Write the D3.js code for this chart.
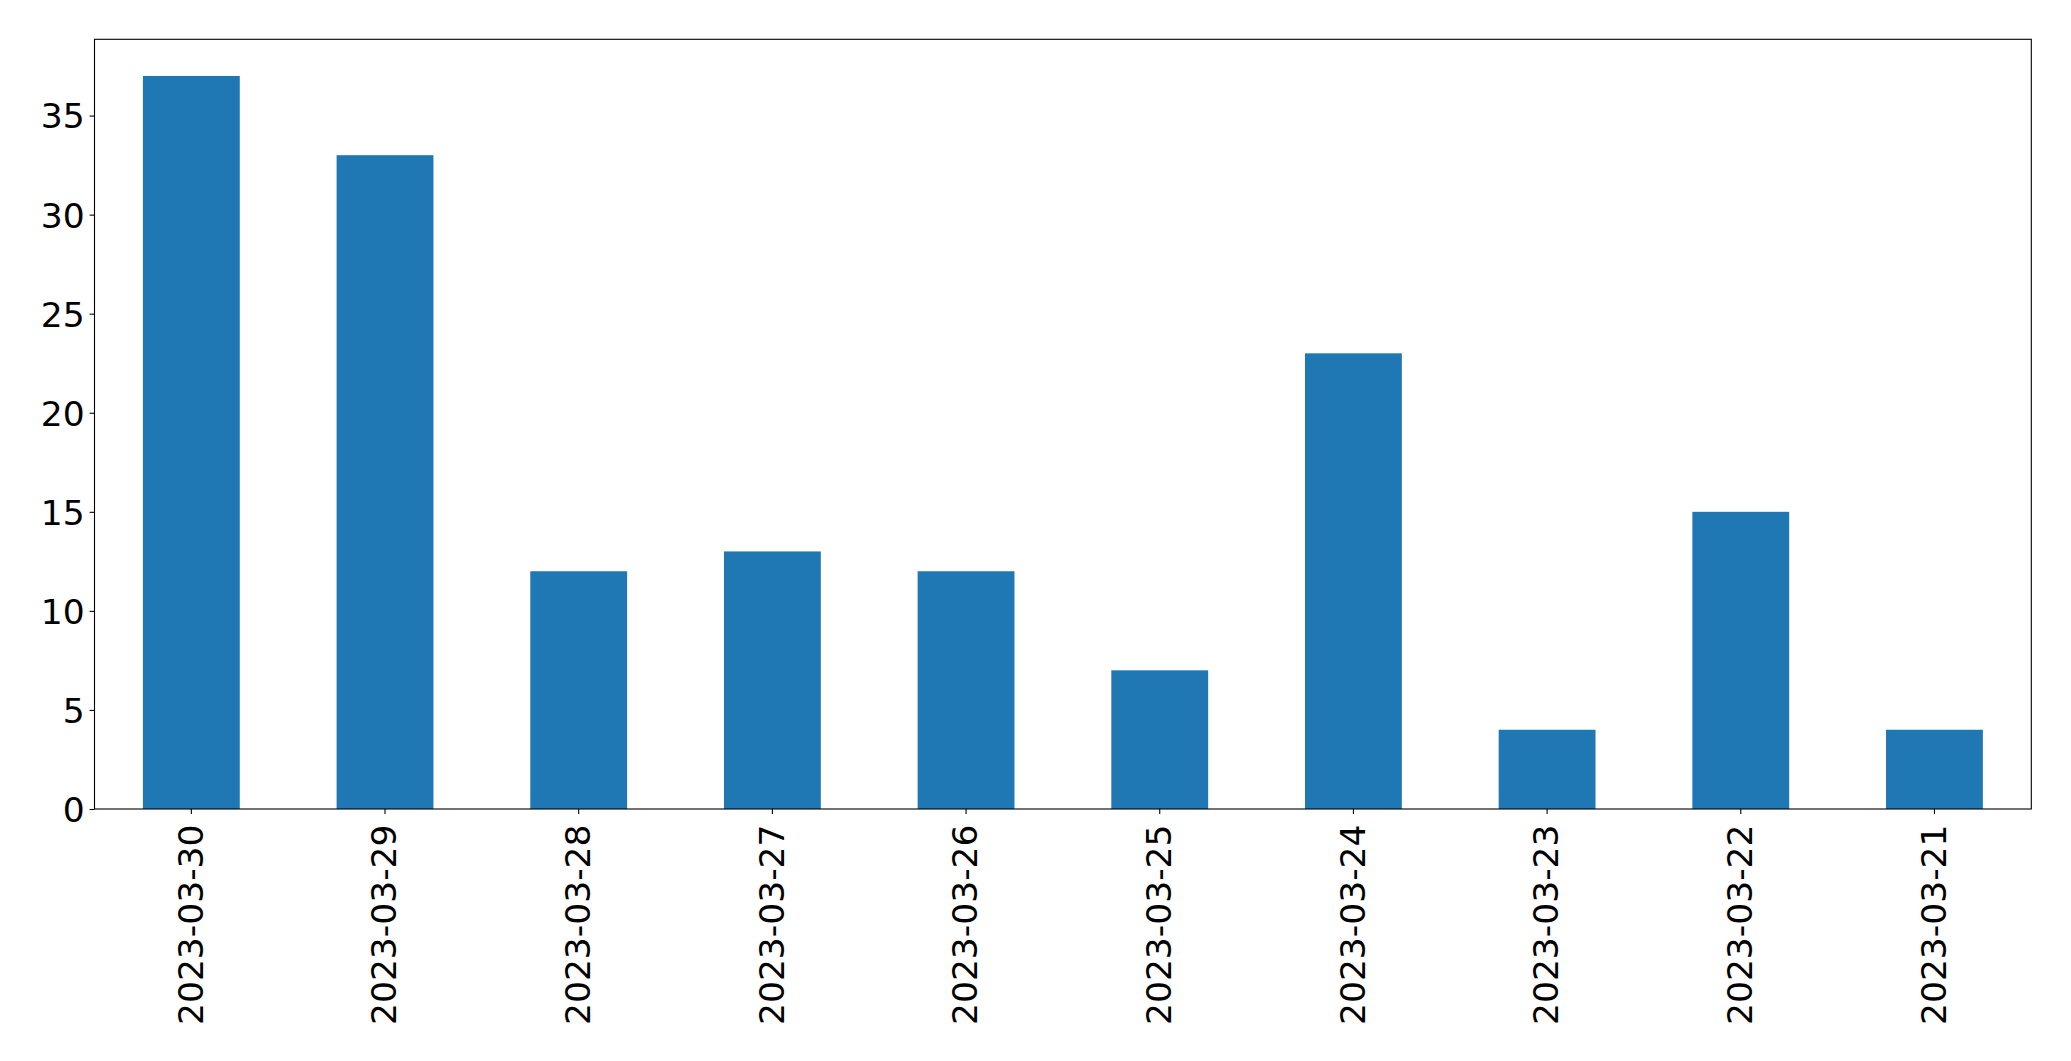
<!DOCTYPE html>
<html>
<head>
<meta charset="utf-8">
<script src="https://cdn.jsdelivr.net/npm/d3@7"></script>
<style>
  html, body { margin: 0; padding: 0; background: #fff; }
  svg { display: block; }
  text { font-family: "DejaVu Sans", sans-serif; fill: #000; }
</style>
</head>
<body>
<script>
const categories = ["2023-03-30","2023-03-29","2023-03-28","2023-03-27","2023-03-26","2023-03-25","2023-03-24","2023-03-23","2023-03-22","2023-03-21"];
const values = [37, 33, 12, 13, 12, 7, 23, 4, 15, 4];
const yTicks = [0, 5, 10, 15, 20, 25, 30, 35];

const W = 2071, H = 1061;
const plotLeft = 94.5, plotRight = 2031.3, plotTop = 39.3, plotBottom = 809;
const fontSize = 34.5;
const tickLen = 4.9, pad = 4.9;

const svg = d3.select("body").append("svg").attr("width", W).attr("height", H);

const x = d3.scaleBand().domain(categories).range([plotLeft, plotRight]).paddingInner(0.5).paddingOuter(0.25);
const yMax = d3.max(values) * 1.05;
const y = d3.scaleLinear().domain([0, yMax]).range([plotBottom, plotTop]);

svg.append("g").selectAll("rect").data(values).join("rect")
  .attr("x", (d, i) => x(categories[i]))
  .attr("width", x.bandwidth())
  .attr("y", d => y(d))
  .attr("height", d => y(0) - y(d))
  .attr("fill", "#1f77b4");

// Y axis
const yAxis = d3.axisLeft(y).tickValues(yTicks).tickSize(tickLen).tickPadding(pad);
const gy = svg.append("g").attr("transform", `translate(${plotLeft},0)`).call(yAxis);
gy.select(".domain").remove();
gy.selectAll(".tick line").attr("stroke", "#000").attr("stroke-width", 1.1);
gy.selectAll(".tick text").attr("font-size", fontSize).attr("font-family", "DejaVu Sans").attr("dy", "0.36em").attr("fill", "#000");

// X axis
const xAxis = d3.axisBottom(x).tickSize(tickLen).tickPadding(0);
const gx = svg.append("g").attr("transform", `translate(0,${plotBottom})`).call(xAxis);
gx.select(".domain").remove();
gx.selectAll(".tick line").attr("stroke", "#000").attr("stroke-width", 1.1);
gx.selectAll(".tick text")
  .attr("font-size", fontSize).attr("font-family", "DejaVu Sans").attr("fill", "#000")
  .attr("text-anchor", "end")
  .attr("transform", "translate(-1.5,15.5) rotate(-90)")
  .attr("x", 0).attr("y", 0)
  .attr("dy", "0.37em");

// Frame
svg.append("rect")
  .attr("x", plotLeft).attr("y", plotTop)
  .attr("width", plotRight - plotLeft).attr("height", plotBottom - plotTop)
  .attr("fill", "none").attr("stroke", "#000").attr("stroke-width", 1.1);
</script>
</body>
</html>
